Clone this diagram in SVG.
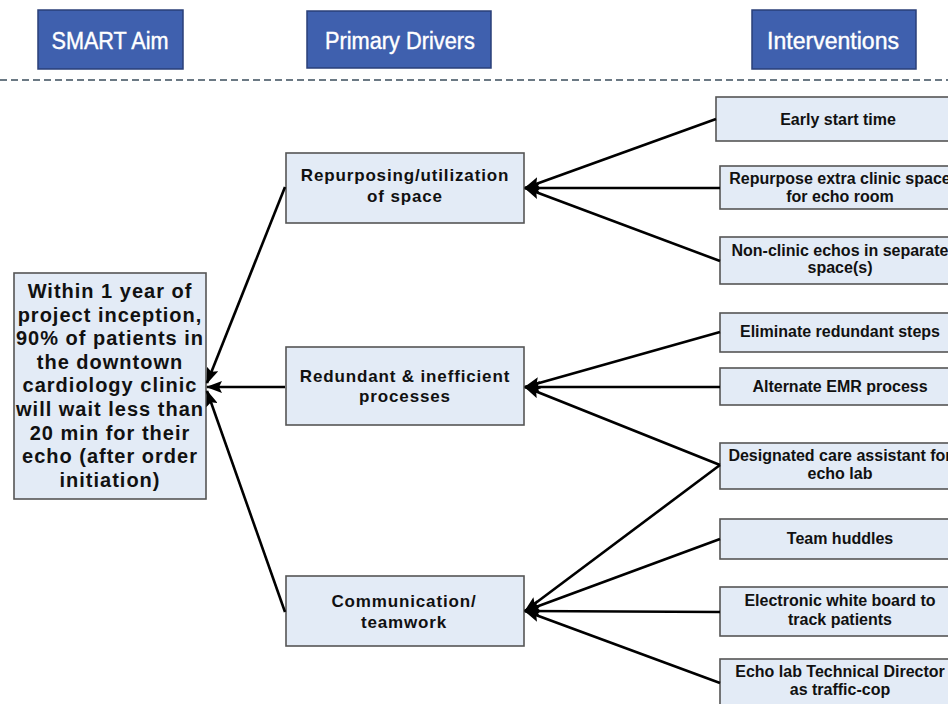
<svg xmlns="http://www.w3.org/2000/svg" width="948" height="704" viewBox="0 0 948 704">
<defs>
<marker id="ah" viewBox="0 0 16 12" refX="15" refY="6" markerWidth="16" markerHeight="12" markerUnits="userSpaceOnUse" orient="auto">
<path d="M0,0 L16,6 L0,12 L3,6 Z" fill="#000"/>
</marker>
<style>
.hdr rect{fill:#3F60AE;stroke:#2A3F78;stroke-width:1.5}
.hdr text{fill:#fff;stroke:#fff;stroke-width:0.4;font-family:"Liberation Sans Narrow","Liberation Sans",Arial,sans-serif;font-size:23px;text-anchor:middle}
.nd rect{fill:#E3EBF6;stroke:#555;stroke-width:1.6}
.aim text{font-family:"Liberation Sans",Arial,sans-serif;font-weight:bold;font-size:20px;letter-spacing:1px;text-anchor:middle;fill:#111}
.drv text{font-family:"Liberation Sans",Arial,sans-serif;font-weight:bold;font-size:17px;letter-spacing:0.85px;text-anchor:middle;fill:#111}
.int text{font-family:"Liberation Sans",Arial,sans-serif;font-weight:bold;font-size:16px;text-anchor:middle;fill:#111}
.cn line{stroke:#000;stroke-width:2.6;marker-end:url(#ah)}
</style>
</defs>
<rect width="948" height="704" fill="#fff"/>
<g id="hdr-smart" class="hdr"><rect x="38" y="10" width="145" height="59"/><text x="110" y="49" textLength="117" lengthAdjust="spacingAndGlyphs">SMART Aim</text></g>
<g id="hdr-drivers" class="hdr"><rect x="307" y="11" width="184" height="57"/><text x="400" y="49" textLength="150" lengthAdjust="spacingAndGlyphs">Primary Drivers</text></g>
<g id="hdr-interventions" class="hdr"><rect x="752" y="10" width="164" height="59"/><text x="833" y="49" textLength="132" lengthAdjust="spacingAndGlyphs">Interventions</text></g>
<line x1="0" y1="80" x2="948" y2="80" stroke="#3B4E5C" stroke-width="1.6" stroke-dasharray="7 4"/>
<g id="aim" class="nd aim"><rect x="14" y="273" width="192" height="226"/>
<text x="110" y="298">Within 1 year of</text>
<text x="110" y="321.6">project inception,</text>
<text x="110" y="345.2">90% of patients in</text>
<text x="110" y="368.8">the downtown</text>
<text x="110" y="392.4">cardiology clinic</text>
<text x="110" y="416">will wait less than</text>
<text x="110" y="439.6">20 min for their</text>
<text x="110" y="463.2">echo (after order</text>
<text x="110" y="486.8">initiation)</text>
</g>
<g id="drv-space" class="nd drv"><rect x="286" y="153" width="238" height="70"/><text x="405" y="181">Repurposing/utilization</text><text x="405" y="202">of space</text></g>
<g id="drv-process" class="nd drv"><rect x="286" y="347" width="238" height="78"/><text x="405" y="381.5">Redundant &amp; inefficient</text><text x="405" y="401.5">processes</text></g>
<g id="drv-comm" class="nd drv"><rect x="286" y="576" width="238" height="70"/><text x="404" y="606.5">Communication/</text><text x="404" y="627.5">teamwork</text></g>
<g id="int-early" class="nd int"><rect x="716" y="97" width="244" height="44"/><text x="838" y="125">Early start time</text></g>
<g id="int-repurpose" class="nd int"><rect x="720" y="166" width="240" height="43"/><text x="840" y="184">Repurpose extra clinic space</text><text x="840" y="201.5">for echo room</text></g>
<g id="int-nonclinic" class="nd int"><rect x="720" y="237" width="240" height="47"/><text x="840" y="255.5">Non-clinic echos in separate</text><text x="840" y="273">space(s)</text></g>
<g id="int-eliminate" class="nd int"><rect x="720" y="313" width="240" height="39"/><text x="840" y="337">Eliminate redundant steps</text></g>
<g id="int-emr" class="nd int"><rect x="720" y="368" width="240" height="37"/><text x="840" y="391.5">Alternate EMR process</text></g>
<g id="int-assistant" class="nd int"><rect x="720" y="443" width="240" height="46"/><text x="840" y="460.5">Designated care assistant for</text><text x="840" y="478.5">echo lab</text></g>
<g id="int-huddles" class="nd int"><rect x="720" y="519" width="240" height="40"/><text x="840" y="544">Team huddles</text></g>
<g id="int-whiteboard" class="nd int"><rect x="720" y="587" width="240" height="49"/><text x="840" y="606">Electronic white board to</text><text x="840" y="625">track patients</text></g>
<g id="int-director" class="nd int"><rect x="720" y="659" width="240" height="52"/><text x="840" y="676.5">Echo lab Technical Director</text><text x="840" y="695">as traffic-cop</text></g>
<g id="connectors" class="cn">
<line x1="285" y1="187" x2="207" y2="383"/>
<line x1="285" y1="387" x2="207" y2="387"/>
<line x1="285" y1="612" x2="207" y2="391"/>
<line x1="716" y1="119" x2="525" y2="188"/>
<line x1="720" y1="188" x2="525" y2="188"/>
<line x1="720" y1="261" x2="525" y2="188"/>
<line x1="720" y1="332" x2="525" y2="387"/>
<line x1="720" y1="387" x2="525" y2="387"/>
<line x1="720" y1="465" x2="525" y2="387"/>
<line x1="720" y1="465" x2="525" y2="611"/>
<line x1="720" y1="539" x2="525" y2="611"/>
<line x1="720" y1="612" x2="525" y2="611"/>
<line x1="720" y1="683" x2="525" y2="611"/>
</g>
</svg>
